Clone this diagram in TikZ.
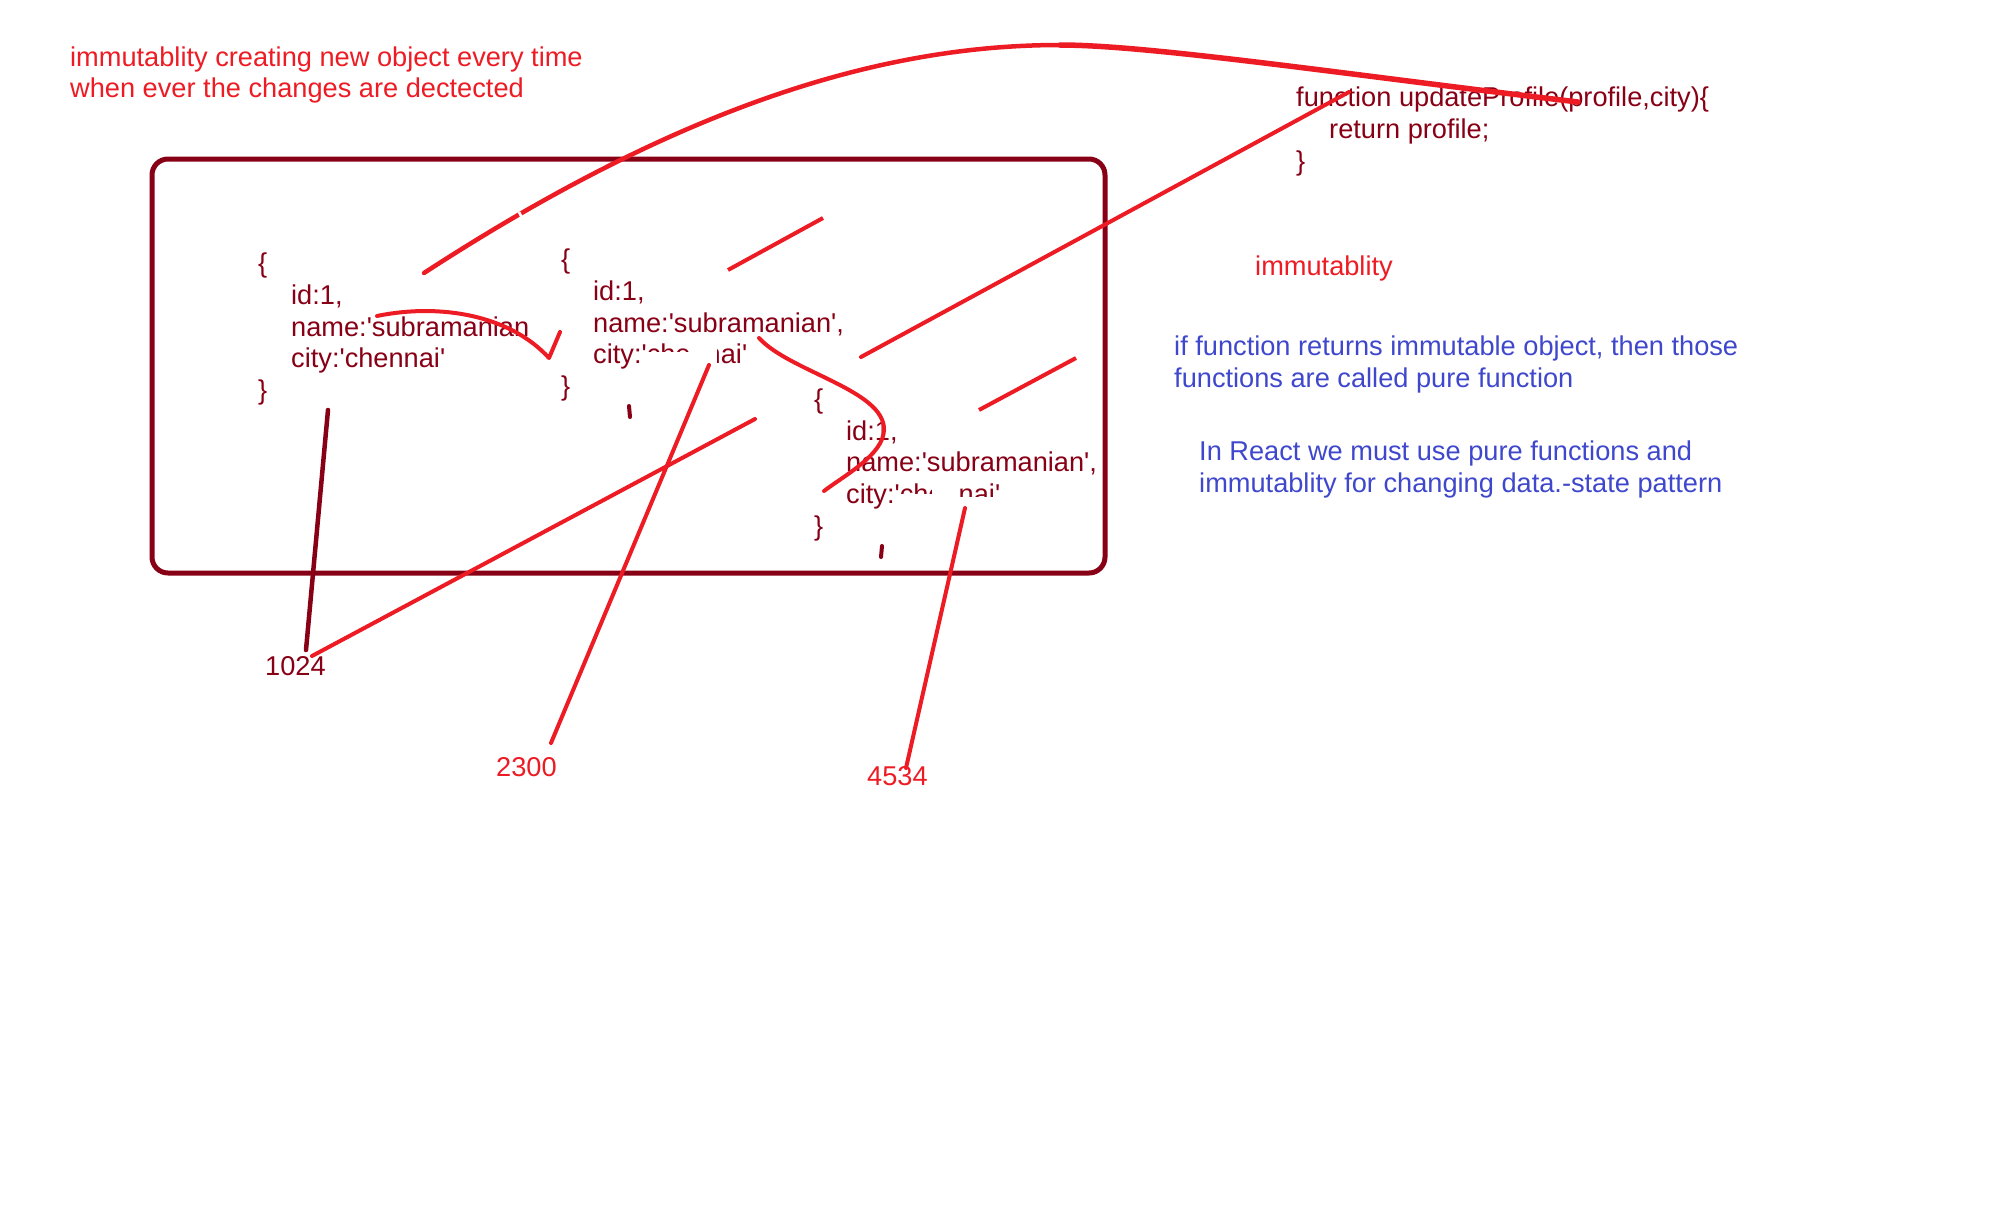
\documentclass[tikz,border=0pt]{standalone}
\usepackage{fontspec}
\setmainfont{Liberation Sans}[Ligatures=TeXOff]
\definecolor{pred}{HTML}{ED1C24}
\definecolor{pdark}{HTML}{880015}
\definecolor{pblue}{HTML}{3F48CC}
\newcommand\txtfont{\fontsize{27.2}{31.75}\selectfont}
\tikzset{
  txt/.style={anchor=base west, inner sep=0pt, font=\txtfont},
  redtxt/.style={txt, text=pred},
  darktxt/.style={txt, text=pdark},
  bluetxt/.style={txt, text=pblue},
  stroke/.style={draw=pred, line width=4pt, line cap=round},
  thickstroke/.style={draw=pred, line width=5.5pt, line cap=round},
  dstroke/.style={draw=pdark, line width=4.5pt, line cap=round},
  erase/.style={fill=white, draw=none},
  frame/.style={draw=pdark, line width=5pt, rounded corners=16pt, anchor=north west, inner sep=0pt, outer sep=0pt},
}
\begin{document}
\begin{tikzpicture}[x=1pt,y=-1pt]
\useasboundingbox[fill=white] (0,0) rectangle (1992,1227);

% frame
\node[frame, minimum width=953pt, minimum height=414pt] (box) at (152,159) {};

% top-left note
\node[redtxt] (n1) at (70,66) {immutablity creating new object every time};
\node[redtxt] (n2) at (70,97) {when ever the changes are dectected};

% object 1
\node[darktxt] (a0) at (258,272) {\{};
\node[darktxt] (a1) at (291,304) {id:1,};
\node[darktxt] (a2) at (291,336) {name:'subramanian};
\node[darktxt] (a3) at (291,367) {city:'chennai'};
\node[darktxt] (a4) at (258,399) {\}};

% object 2
\node[darktxt] (b0) at (561,268) {\{};
\node[darktxt] (b1) at (593,300) {id:1,};
\node[darktxt] (b2) at (593,332) {name:'subramanian',};
\node[darktxt] (b3) at (593,363) {city:'chennai'};
\node[darktxt] (b4) at (561,395) {\}};

% object 3
\node[darktxt] (c0) at (814,408) {\{};
\node[darktxt] (c1) at (846,440) {id:1,};
\node[darktxt] (c2) at (846,471) {name:'subramanian',};
\node[darktxt] (c3) at (846,503) {city:'chennai'};
\node[darktxt] (c4) at (814,535) {\}};

% function
\node[darktxt] (f1) at (1296,106) {function updateProfile(profile,city)\{};
\node[darktxt] (f2) at (1329,138) {return profile;};
\node[darktxt] (f3) at (1296,170) {\}};

% right notes
\node[redtxt] (im) at (1255,275) {immutablity};
\node[bluetxt] (p1) at (1174,355) {if function returns immutable object, then those};
\node[bluetxt] (p2) at (1174,387) {functions are called pure function};
\node[bluetxt] (r1) at (1199,460) {In React we must use pure functions and};
\node[bluetxt] (r2) at (1199,492) {immutablity for changing data.-state pattern};

% addresses
\node[darktxt] (m1) at (265,675) {1024};
\node[redtxt] (m2) at (496,776) {2300};
\node[redtxt] (m3) at (867,785) {4534};

% erased parts of the text
\fill[erase] (647,352) rectangle (692,369);
\fill[erase] (692,338) rectangle (717,369);
\fill[erase] (900,494) rectangle (932,509);
\fill[erase] (932,478) rectangle (960,509);
\fill[erase] (960,497) rectangle (1000,509);

% coordinates of strokes
\coordinate (s1) at (424,273);
\coordinate (s2) at (1060,45);
\coordinate (s3) at (1578,102);
\coordinate (u1) at (1349,92);
\coordinate (u2) at (861,357);
\coordinate (d1a) at (728,270);
\coordinate (d1b) at (823,218);
\coordinate (d2a) at (979,410);
\coordinate (d2b) at (1076,358);
\coordinate (k1) at (755,419);
\coordinate (k1e) at (312,656);
\coordinate (k2) at (709,365);
\coordinate (k2e) at (551,743);
\coordinate (k3) at (965,508);
\coordinate (k3e) at (906,768);
\coordinate (p0) at (328,410);
\coordinate (p0e) at (306,650);
\coordinate (v0) at (377,316);
\coordinate (v1) at (549,358);
\coordinate (v2) at (560,332);
\coordinate (w0) at (759,338);
\coordinate (w1) at (884,430);
\coordinate (w2) at (824,491);
\coordinate (t1) at (629,406);
\coordinate (t1e) at (630,417);
\coordinate (t2) at (882,546);
\coordinate (t2e) at (881,557);

% big arc
\draw[stroke, line width=4.5pt] (s1) .. controls (690,100) and (890,45) .. (s2);
\draw[thickstroke] (s2) .. controls (1150,45) and (1350,75) .. (s3);
\draw[white, line width=2.5pt] (519,212) -- (525,224);

% straight strokes
\draw[stroke] (u1) -- (u2);
\draw[stroke, line cap=butt] (d1a) -- (d1b);
\draw[stroke, line cap=butt] (d2a) -- (d2b);
\draw[stroke] (k1) -- (k1e);
\draw[stroke] (k2) -- (k2e);
\draw[stroke] (k3) -- (k3e);
\draw[dstroke] (p0) -- (p0e);

% curves
\draw[stroke, line join=round] (v0) .. controls (440,303) and (510,315) .. (v1) -- (v2);
\draw[stroke] (w0) .. controls (790,372) and (885,390) .. (w1) .. controls (883,455) and (845,475) .. (w2);

% small ticks
\draw[dstroke, line width=4pt] (t1) -- (t1e);
\draw[dstroke, line width=4pt] (t2) -- (t2e);
\end{tikzpicture}
\end{document}
